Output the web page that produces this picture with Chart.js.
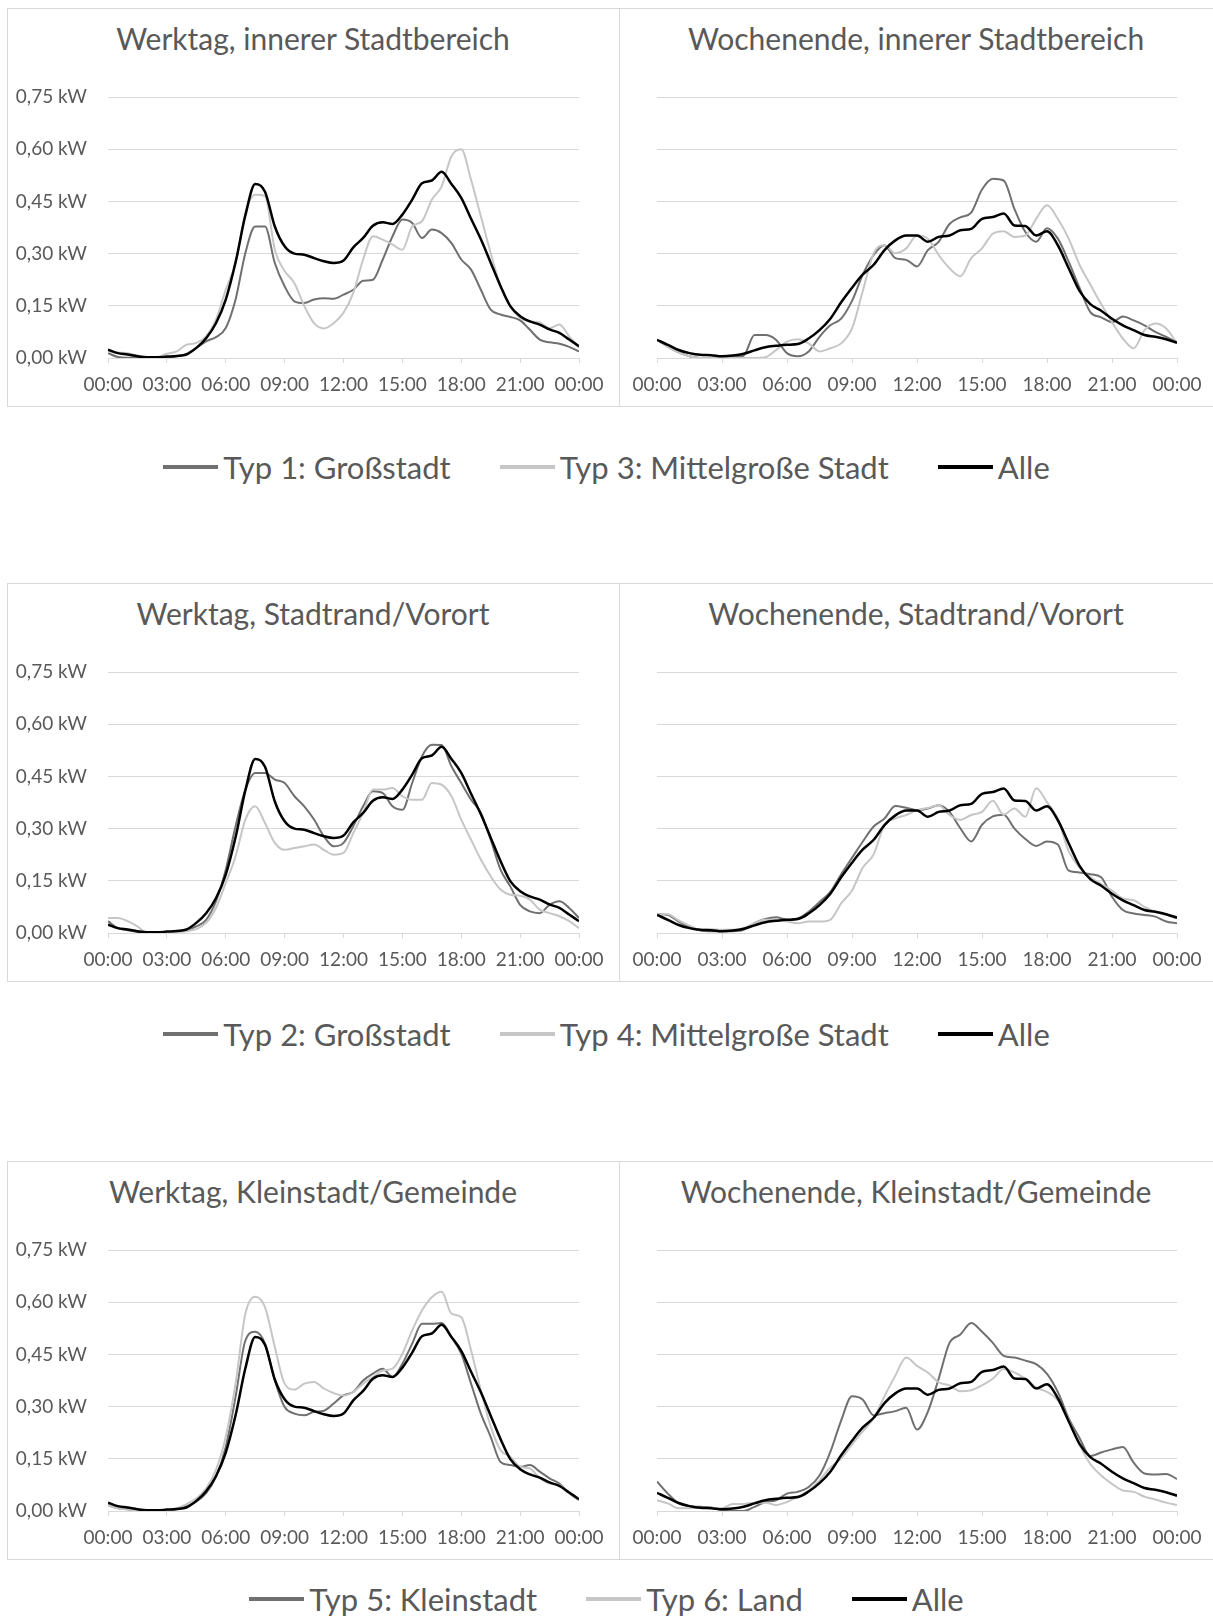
<!DOCTYPE html>
<html lang="de">
<head>
<meta charset="utf-8">
<title>Lastprofile Werktag / Wochenende</title>
<script src="https://cdn.jsdelivr.net/npm/chart.js@4.4.1/dist/chart.umd.min.js"></script>
<style>
  body { margin: 0; background: #fff; font-family: Lato, "Open Sans", sans-serif; color: #595959; }
  #page { position: relative; width: 1213px; height: 1616px; overflow: hidden; }
  .box { position: absolute; border: 1px solid #d9d9d9; box-sizing: border-box; }
  .divider { position: absolute; width: 1px; background: #d9d9d9; }
  .title { position: absolute; font-size: 30px; line-height: 36px; white-space: nowrap; transform: translate(-50%, -50%); }
  .chart { position: absolute; }
  .legend { position: absolute; left: 0; width: 1213px; display: flex; justify-content: center; align-items: center; gap: 49px; font-size: 31px; line-height: 40px; }
  .legend .item { display: flex; align-items: center; }
  .legend i { display: inline-block; width: 55px; height: 4px; margin-right: 5px; }
</style>
</head>
<body>
<div id="page"></div>
<script>
// Zeitachse: halbstündliche Werte
const HOURS = [0, 0.5, 1, 1.5, 2, 2.5, 3, 3.5, 4, 4.5, 5, 5.5, 6, 6.5, 7, 7.5, 8, 8.5, 9, 9.5,
  10, 10.5, 11, 11.5, 12, 12.5, 13, 13.5, 14, 14.5, 15, 15.5, 16, 16.5, 17, 17.5, 18, 18.5, 19, 19.5,
  20, 20.5, 21, 21.5, 22, 22.5, 23, 23.5, 24];
const X_TICK_LABELS = ["00:00", "03:00", "06:00", "09:00", "12:00", "15:00", "18:00", "21:00", "00:00"];
const Y_TICK_LABELS = ["0,00 kW", "0,15 kW", "0,30 kW", "0,45 kW", "0,60 kW", "0,75 kW"];

const TITLES = [
  "Werktag, innerer Stadtbereich", "Wochenende, innerer Stadtbereich",
  "Werktag, Stadtrand/Vorort", "Wochenende, Stadtrand/Vorort",
  "Werktag, Kleinstadt/Gemeinde", "Wochenende, Kleinstadt/Gemeinde"
];
const LEGENDS = [
  ["Typ 1: Großstadt", "Typ 3: Mittelgroße Stadt", "Alle"],
  ["Typ 2: Großstadt", "Typ 4: Mittelgroße Stadt", "Alle"],
  ["Typ 5: Kleinstadt", "Typ 6: Land", "Alle"]
];

// "Alle" (Mittel über alle Typen) – in allen Zeilen gleich
const ALLE_WERKTAG = [0.024, 0.014, 0.010, 0.005, 0.002, 0.002, 0.004, 0.006, 0.010, 0.029, 0.057, 0.100,
  0.168, 0.275, 0.410, 0.500, 0.478, 0.378, 0.321, 0.300, 0.297, 0.287, 0.278, 0.273, 0.280, 0.318, 0.345,
  0.380, 0.390, 0.385, 0.412, 0.455, 0.502, 0.510, 0.535, 0.500, 0.460, 0.400, 0.341, 0.274, 0.207, 0.149,
  0.120, 0.105, 0.096, 0.082, 0.072, 0.053, 0.034];
const ALLE_WOCHENENDE = [0.052, 0.038, 0.023, 0.014, 0.009, 0.008, 0.005, 0.007, 0.012, 0.022, 0.031, 0.035,
  0.038, 0.040, 0.056, 0.080, 0.113, 0.160, 0.202, 0.240, 0.268, 0.310, 0.338, 0.352, 0.352, 0.334, 0.348,
  0.352, 0.367, 0.371, 0.400, 0.405, 0.415, 0.381, 0.379, 0.352, 0.364, 0.324, 0.258, 0.193, 0.155, 0.136,
  0.113, 0.094, 0.080, 0.066, 0.061, 0.054, 0.044];

// innerer Stadtbereich
const TYP1_WERKTAG = [0.014, 0.003, 0.001, 0.002, 0.002, 0.002, 0.002, 0.005, 0.012, 0.029, 0.048, 0.060,
  0.086, 0.168, 0.302, 0.378, 0.378, 0.273, 0.206, 0.163, 0.158, 0.168, 0.172, 0.170, 0.182, 0.196, 0.222,
  0.225, 0.283, 0.350, 0.398, 0.388, 0.345, 0.369, 0.359, 0.330, 0.283, 0.254, 0.196, 0.139, 0.125, 0.118,
  0.108, 0.081, 0.053, 0.045, 0.041, 0.032, 0.019];
const TYP3_WERKTAG = [0.019, 0.016, 0.014, 0.007, 0.002, 0.003, 0.012, 0.019, 0.038, 0.043, 0.062, 0.110,
  0.196, 0.273, 0.417, 0.469, 0.465, 0.310, 0.250, 0.215, 0.150, 0.100, 0.085, 0.100, 0.130, 0.187, 0.283,
  0.350, 0.340, 0.326, 0.311, 0.378, 0.393, 0.455, 0.493, 0.580, 0.600, 0.512, 0.407, 0.302, 0.206, 0.148,
  0.115, 0.105, 0.102, 0.086, 0.096, 0.062, 0.029];
const TYP1_WOCHENENDE = [0.052, 0.033, 0.016, 0.005, 0.000, 0.000, 0.000, 0.002, 0.007, 0.066, 0.066, 0.052,
  0.014, 0.005, 0.019, 0.061, 0.094, 0.113, 0.164, 0.240, 0.296, 0.324, 0.287, 0.282, 0.263, 0.310, 0.334,
  0.385, 0.404, 0.418, 0.484, 0.515, 0.510, 0.428, 0.362, 0.334, 0.373, 0.343, 0.277, 0.202, 0.132, 0.117,
  0.103, 0.119, 0.108, 0.094, 0.075, 0.061, 0.044];
const TYP3_WOCHENENDE = [0.052, 0.033, 0.016, 0.005, 0.000, 0.000, 0.000, 0.000, 0.000, 0.000, 0.002, 0.023,
  0.047, 0.054, 0.042, 0.019, 0.028, 0.042, 0.085, 0.193, 0.301, 0.324, 0.301, 0.315, 0.352, 0.343, 0.296,
  0.258, 0.235, 0.287, 0.315, 0.357, 0.364, 0.348, 0.352, 0.400, 0.439, 0.400, 0.343, 0.268, 0.211, 0.155,
  0.103, 0.056, 0.028, 0.080, 0.099, 0.085, 0.042];

// Stadtrand/Vorort
const TYP2_WERKTAG = [0.034, 0.014, 0.008, 0.003, 0.000, 0.000, 0.002, 0.004, 0.008, 0.019, 0.038, 0.091,
  0.182, 0.307, 0.412, 0.460, 0.460, 0.441, 0.431, 0.393, 0.364, 0.326, 0.278, 0.249, 0.259, 0.307, 0.364,
  0.407, 0.402, 0.364, 0.354, 0.431, 0.508, 0.541, 0.540, 0.479, 0.431, 0.383, 0.345, 0.268, 0.182, 0.134,
  0.081, 0.062, 0.057, 0.081, 0.091, 0.072, 0.043];
const TYP4_WERKTAG = [0.043, 0.043, 0.034, 0.019, 0.000, 0.002, 0.002, 0.003, 0.005, 0.011, 0.029, 0.072,
  0.144, 0.220, 0.326, 0.364, 0.316, 0.259, 0.239, 0.244, 0.249, 0.254, 0.239, 0.225, 0.230, 0.287, 0.345,
  0.412, 0.412, 0.417, 0.393, 0.383, 0.383, 0.431, 0.426, 0.393, 0.326, 0.268, 0.211, 0.163, 0.125, 0.110,
  0.107, 0.096, 0.067, 0.057, 0.048, 0.034, 0.014];
const TYP2_WOCHENENDE = [0.054, 0.052, 0.033, 0.019, 0.007, 0.005, 0.005, 0.005, 0.009, 0.028, 0.040, 0.045,
  0.038, 0.042, 0.061, 0.089, 0.118, 0.169, 0.216, 0.263, 0.306, 0.329, 0.365, 0.360, 0.353, 0.358, 0.367,
  0.348, 0.301, 0.263, 0.311, 0.335, 0.340, 0.300, 0.270, 0.250, 0.263, 0.254, 0.179, 0.174, 0.169, 0.160,
  0.104, 0.066, 0.056, 0.052, 0.047, 0.033, 0.028];
const TYP4_WOCHENENDE = [0.054, 0.054, 0.036, 0.021, 0.009, 0.011, 0.009, 0.009, 0.014, 0.028, 0.038, 0.038,
  0.033, 0.028, 0.033, 0.033, 0.038, 0.085, 0.122, 0.188, 0.226, 0.311, 0.329, 0.339, 0.353, 0.359, 0.367,
  0.339, 0.325, 0.339, 0.348, 0.380, 0.340, 0.358, 0.334, 0.416, 0.376, 0.329, 0.235, 0.188, 0.160, 0.141,
  0.122, 0.099, 0.094, 0.075, 0.061, 0.052, 0.042];

// Kleinstadt/Gemeinde
const TYP5_WERKTAG = [0.017, 0.008, 0.005, 0.002, 0.002, 0.002, 0.002, 0.005, 0.014, 0.027, 0.051, 0.098,
  0.184, 0.328, 0.490, 0.515, 0.481, 0.375, 0.299, 0.280, 0.275, 0.285, 0.288, 0.309, 0.332, 0.342, 0.375,
  0.395, 0.409, 0.385, 0.423, 0.481, 0.538, 0.538, 0.540, 0.500, 0.452, 0.366, 0.280, 0.213, 0.141, 0.132,
  0.127, 0.132, 0.113, 0.094, 0.079, 0.051, 0.032];
const TYP6_WERKTAG = [0.017, 0.008, 0.005, 0.002, 0.002, 0.002, 0.003, 0.008, 0.020, 0.036, 0.065, 0.118,
  0.213, 0.366, 0.567, 0.616, 0.586, 0.471, 0.366, 0.349, 0.366, 0.371, 0.352, 0.339, 0.332, 0.342, 0.366,
  0.385, 0.404, 0.409, 0.452, 0.519, 0.576, 0.614, 0.630, 0.567, 0.557, 0.462, 0.347, 0.243, 0.175, 0.156,
  0.127, 0.122, 0.094, 0.079, 0.075, 0.051, 0.032];
const TYP5_WOCHENENDE = [0.085, 0.050, 0.022, 0.014, 0.012, 0.010, 0.003, 0.000, 0.000, 0.012, 0.026, 0.031,
  0.050, 0.055, 0.069, 0.102, 0.170, 0.260, 0.330, 0.320, 0.275, 0.281, 0.287, 0.297, 0.234, 0.285, 0.380,
  0.483, 0.507, 0.540, 0.515, 0.483, 0.446, 0.441, 0.432, 0.422, 0.394, 0.342, 0.267, 0.210, 0.158, 0.168,
  0.177, 0.184, 0.139, 0.108, 0.105, 0.106, 0.092];
const TYP6_WOCHENENDE = [0.031, 0.022, 0.008, 0.008, 0.010, 0.009, 0.008, 0.020, 0.020, 0.024, 0.024, 0.017,
  0.026, 0.041, 0.059, 0.088, 0.125, 0.151, 0.191, 0.229, 0.267, 0.330, 0.389, 0.441, 0.417, 0.398, 0.370,
  0.361, 0.344, 0.347, 0.361, 0.380, 0.408, 0.398, 0.380, 0.355, 0.342, 0.318, 0.262, 0.191, 0.135, 0.102,
  0.078, 0.059, 0.055, 0.041, 0.033, 0.024, 0.017];

const PANEL_SERIES = [
  [TYP1_WERKTAG, TYP3_WERKTAG, ALLE_WERKTAG], [TYP1_WOCHENENDE, TYP3_WOCHENENDE, ALLE_WOCHENENDE],
  [TYP2_WERKTAG, TYP4_WERKTAG, ALLE_WERKTAG], [TYP2_WOCHENENDE, TYP4_WOCHENENDE, ALLE_WOCHENENDE],
  [TYP5_WERKTAG, TYP6_WERKTAG, ALLE_WERKTAG], [TYP5_WOCHENENDE, TYP6_WOCHENENDE, ALLE_WOCHENENDE]
];

const COLORS = ["#707070", "#c6c6c6", "#000000"];
const WIDTHS = [2, 2, 2.5];
const GRID = "#d9d9d9";
const FONT = "Lato, 'Open Sans', sans-serif";

// Layout (Pixel)
const ROW_TOPS = [8, 583, 1161];
const ROW_HEIGHT = 399;
const LEGEND_Y = [467, 1034, 1599];
const DIVIDER_X = 619;

Chart.defaults.font.family = FONT;
Chart.defaults.color = "#595959";

const page = document.getElementById("page");

function addDiv(cls, style, text) {
  const d = document.createElement("div");
  d.className = cls;
  Object.assign(d.style, style);
  if (text) d.textContent = text;
  page.appendChild(d);
  return d;
}

function makeChart(panel, left, top, width, height, withY) {
  const wrap = addDiv("chart", { left: left + "px", top: top + "px", width: width + "px", height: height + "px" });
  const canvas = document.createElement("canvas");
  wrap.appendChild(canvas);
  const series = PANEL_SERIES[panel];
  const labels = LEGENDS[Math.floor(panel / 2)];

  new Chart(canvas, {
    type: "line",
    data: {
      labels: HOURS,
      datasets: series.map((s, i) => ({
        label: labels[i],
        data: s,
        borderColor: COLORS[i],
        borderWidth: WIDTHS[i],
        pointRadius: 0,
        cubicInterpolationMode: "monotone",
        order: 2 - i,
      })),
    },
    options: {
      responsive: true,
      maintainAspectRatio: false,
      animation: false,
      devicePixelRatio: 1,
      layout: { padding: { top: 88, bottom: 0, left: withY ? 0 : 37, right: withY ? 40 : 36 } },
      plugins: { legend: { display: false }, tooltip: { enabled: false } },
      scales: {
        x: {
          type: "linear",
          min: 0,
          max: 24,
          grid: { drawOnChartArea: false, drawTicks: true, tickLength: 5, tickColor: GRID },
          border: { display: true, color: GRID },
          ticks: {
            stepSize: 3,
            padding: 10,
            font: { size: 19 },
            color: "#595959",
            maxRotation: 0,
            callback: (v) => X_TICK_LABELS[Math.round(v / 3)],
          },
          afterFit: (scale) => { scale.height = 48; },
        },
        y: {
          min: 0,
          max: 0.75,
          grid: { color: GRID, lineWidth: 1, drawTicks: false },
          border: { display: false },
          ticks: {
            display: withY,
            stepSize: 0.15,
            padding: 21,
            font: { size: 19 },
            color: "#595959",
            callback: (v) => Y_TICK_LABELS[Math.round(v / 0.15)],
          },
          afterFit: (scale) => { scale.width = withY ? 100 : 0; },
        },
      },
    },
  });
}

ROW_TOPS.forEach((top, r) => {
  addDiv("box", { left: "7px", top: top + "px", width: "1220px", height: ROW_HEIGHT + "px" });
  addDiv("divider", { left: DIVIDER_X + "px", top: top + "px", height: ROW_HEIGHT + "px" });

  addDiv("title", { left: "313px", top: (top + 30) + "px" }, TITLES[r * 2]);
  addDiv("title", { left: "916px", top: (top + 30) + "px" }, TITLES[r * 2 + 1]);

  makeChart(r * 2, 8, top + 1, DIVIDER_X - 8, ROW_HEIGHT - 2, true);
  makeChart(r * 2 + 1, DIVIDER_X + 1, top + 1, 1213 - DIVIDER_X - 1, ROW_HEIGHT - 2, false);

  const leg = addDiv("legend", { top: (LEGEND_Y[r] - 20) + "px" });
  LEGENDS[r].forEach((name, i) => {
    const item = document.createElement("span");
    item.className = "item";
    const mark = document.createElement("i");
    mark.style.background = COLORS[i];
    item.appendChild(mark);
    item.appendChild(document.createTextNode(name));
    leg.appendChild(item);
  });
});
</script>
</body>
</html>
